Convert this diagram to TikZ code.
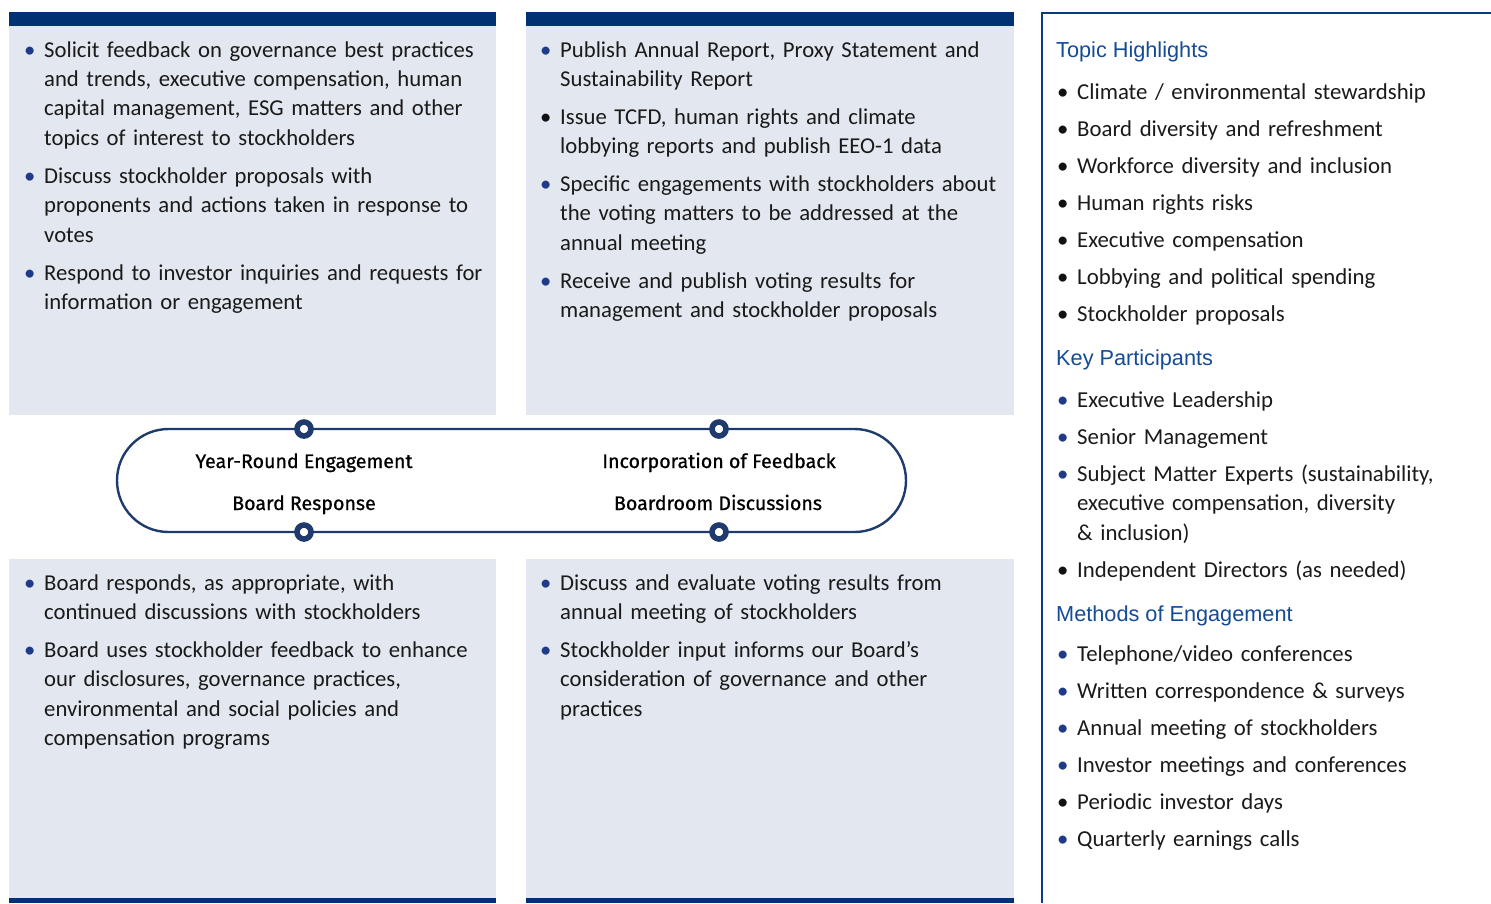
\documentclass[tikz,border=0pt]{standalone}
\usepackage{fontspec}
\setmainfont{Carlito}
\newfontfamily\headfont{Liberation Sans}
\newfontfamily\loopfont[FakeBold=0.8]{Fira Sans}
\usetikzlibrary{shapes.misc}

\definecolor{navy}{HTML}{003273}
\definecolor{panelfill}{HTML}{E3E7EF}
\definecolor{loopc}{HTML}{1F3B6E}
\definecolor{framec}{HTML}{0A3A86}
\definecolor{headc}{HTML}{144B95}
\definecolor{bulblue}{HTML}{1F3A88}
\definecolor{bulblack}{HTML}{111111}
\definecolor{textc}{HTML}{1A1A1A}

% bullet item with hanging indent; optional argument sets the bullet colour
\newcommand\bul[2][bulblue]{\hangindent=20pt\hangafter=1\noindent
  \makebox[20pt][l]{\textcolor{#1}{•}}#2\par}

\tikzset{
  panel/.style={fill=panelfill, draw=none},
  bar/.style={fill=navy, draw=none},
  listtext/.style={anchor=base west, inner sep=0pt, text=textc, text width=470pt,
    font=\fontsize{22.7}{29.4}\selectfont},
  sidelist/.style={anchor=base west, inner sep=0pt, text=textc, text width=430pt,
    font=\fontsize{22.8}{29.5}\selectfont},
  sidehead/.style={anchor=base west, inner sep=0pt, text=headc,
    font=\headfont\fontsize{21.7}{26}\selectfont},
  ring/.style={circle, draw=loopc, line width=5.6pt, fill=white,
    minimum size=14pt, inner sep=0pt},
  looplabel/.style={anchor=base, inner sep=0pt, text=black,
    font=\loopfont\fontsize{19.6}{24}\selectfont},
}

\begin{document}
\begin{tikzpicture}[x=1pt, y=-1pt]
\useasboundingbox (0,0) rectangle (1491,903);

% four shaded panels with their navy bars
\fill[panel] (9,12) rectangle (496,415);
\fill[bar]   (9,12) rectangle (496,26);
\fill[panel] (526,12) rectangle (1014,415);
\fill[bar]   (526,12) rectangle (1014,26);
\fill[panel] (9,559) rectangle (496,903);
\fill[bar]   (9,898) rectangle (496,903);
\fill[panel] (526,559) rectangle (1014,903);
\fill[bar]   (526,898) rectangle (1014,903);

% frame of the side column
\draw[framec, line width=2pt] (1042,903) -- (1042,13) -- (1491,13);

% top-left list
\node[listtext] (tl) at (24,57) {\setlength\parskip{8.7pt}%
\bul{Solicit feedback on governance best practices\newline and trends, executive compensation, human\newline capital management, ESG matters and other\newline topics of interest to stockholders}
\bul{Discuss stockholder proposals with\newline proponents and actions taken in response to\newline votes}
\bul{Respond to investor inquiries and requests for\newline information or engagement}};

% top-middle list
\node[listtext] (tm) at (540,57) {\setlength\parskip{8.4pt}%
\bul{Publish Annual Report, Proxy Statement and\newline Sustainability Report}
\bul[bulblack]{Issue TCFD, human rights and climate\newline lobbying reports and publish EEO-1 data}
\bul{Specific engagements with stockholders about\newline the voting matters to be addressed at the\newline annual meeting}
\bul{Receive and publish voting results for\newline management and stockholder proposals}};

% bottom-left list
\node[listtext] (bl) at (24,590) {\setlength\parskip{8.7pt}%
\bul{Board responds, as appropriate, with\newline continued discussions with stockholders}
\bul{Board uses stockholder feedback to enhance\newline our disclosures, governance practices,\newline environmental and social policies and\newline compensation programs}};

% bottom-middle list
\node[listtext] (bm) at (540,590) {\setlength\parskip{8.7pt}%
\bul{Discuss and evaluate voting results from\newline annual meeting of stockholders}
\bul{Stockholder input informs our Board’s\newline consideration of governance and other\newline practices}};

% engagement cycle
\node[rounded rectangle, draw=loopc, line width=2.4pt, minimum width=789pt,
  minimum height=103pt, inner sep=0pt] (loop) at (511.5,480.5) {};
\node[ring] (r1) at (304,429) {};
\node[ring] (r2) at (719,429) {};
\node[ring] (r3) at (304,532) {};
\node[ring] (r4) at (719,532) {};
\node[looplabel] (l1) at (304,468) {Year-Round Engagement};
\node[looplabel] (l2) at (304,510) {Board Response};
\node[looplabel] (l3) at (719,468) {Incorporation of Feedback};
\node[looplabel] (l4) at (718,510) {Boardroom Discussions};

% side column
\node[sidehead] (h1) at (1056,57) {Topic Highlights};
\node[sidelist] (s1) at (1057,99) {\setlength\parskip{7.5pt}%
\bul[bulblack]{Climate / environmental stewardship}
\bul[bulblack]{Board diversity and refreshment}
\bul[bulblack]{Workforce diversity and inclusion}
\bul[bulblack]{Human rights risks}
\bul[bulblack]{Executive compensation}
\bul[bulblack]{Lobbying and political spending}
\bul[bulblack]{Stockholder proposals}};

\node[sidehead] (h2) at (1056,365) {Key Participants};
\node[sidelist] (s2) at (1057,407) {\setlength\parskip{7.5pt}%
\bul{Executive Leadership}
\bul{Senior Management}
\bul{Subject Matter Experts (sustainability,\newline executive compensation, diversity\newline \& inclusion)}
\bul[bulblack]{Independent Directors (as needed)}};

\node[sidehead] (h3) at (1056,621) {Methods of Engagement};
\node[sidelist] (s3) at (1057,661) {\setlength\parskip{7.5pt}%
\bul{Telephone/video conferences}
\bul{Written correspondence \& surveys}
\bul{Annual meeting of stockholders}
\bul{Investor meetings and conferences}
\bul[bulblack]{Periodic investor days}
\bul{Quarterly earnings calls}};
\end{tikzpicture}
\end{document}
